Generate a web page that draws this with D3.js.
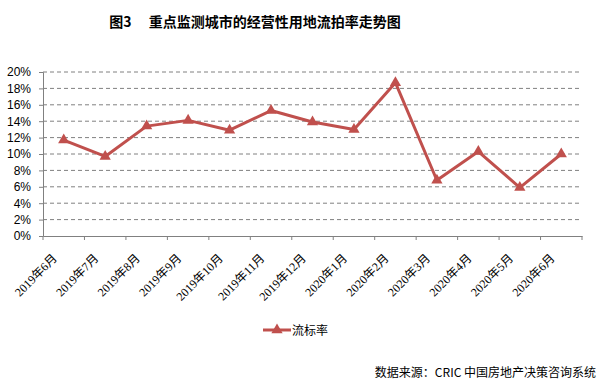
<!DOCTYPE html>
<html>
<head>
<meta charset="utf-8">
<script src="https://cdn.jsdelivr.net/npm/d3@7"></script>
<style>
  body { margin: 0; background: #fff; }
  svg { display: block; }
</style>
</head>
<body>
<div class="container"></div>
<script>
// data
const months = ["2019年6月", "2019年7月", "2019年8月", "2019年9月", "2019年10月", "2019年11月",
  "2019年12月", "2020年1月", "2020年2月", "2020年3月", "2020年4月", "2020年5月", "2020年6月"];
const rates = [11.7, 9.7, 13.4, 14.1, 12.9, 15.3, 13.9, 13.0, 18.7, 6.8, 10.3, 5.9, 10.0];
const yTicks = [0, 2, 4, 6, 8, 10, 12, 14, 16, 18, 20];
const seriesName = "流标率";

const W = 604, H = 382;
const margin = { top: 72, right: 22, bottom: 146, left: 43 };
const color = "#C0504D";
const cjk = "'Noto Sans CJK SC', sans-serif";

const svg = d3.select(".container").append("svg")
  .attr("width", W).attr("height", H);

const x = d3.scaleBand().domain(months).range([margin.left, W - margin.right]);
const y = d3.scaleLinear().domain([0, 20]).range([H - margin.bottom, margin.top]);

// title
svg.append("text")
  .attr("x", 255).attr("y", 27)
  .attr("text-anchor", "middle")
  .style("font-family", cjk).style("font-weight", "bold").style("font-size", "14px")
  .text("图3　 重点监测城市的经营性用地流拍率走势图");

// gridlines
svg.append("g").selectAll("line")
  .data(yTicks.filter(d => d > 0))
  .enter().append("line")
  .attr("x1", margin.left).attr("x2", W - margin.right)
  .attr("y1", d => y(d)).attr("y2", d => y(d))
  .attr("stroke", "#808080").attr("stroke-dasharray", "4,3");

// y axis
const yAxis = svg.append("g")
  .attr("transform", `translate(${margin.left},0)`)
  .call(d3.axisLeft(y).tickValues(yTicks).tickFormat(d => d + "%").tickSizeOuter(0).tickSize(4));
yAxis.select(".domain").attr("stroke", "#808080");
yAxis.selectAll(".tick line").attr("stroke", "#808080");
yAxis.selectAll("text")
  .style("font-family", "'Liberation Sans', Arial, sans-serif").style("font-size", "12px")
  .attr("fill", "#000").attr("x", -12);

// x axis
const xAxis = svg.append("g")
  .attr("transform", `translate(0,${y(0)})`)
  .call(d3.axisBottom(x).tickSize(0).tickSizeOuter(0));
xAxis.select(".domain").attr("stroke", "#808080");
xAxis.selectAll(".tick line").remove();
// ticks on band boundaries
svg.append("g").selectAll("line")
  .data(months.concat(["end"]))
  .enter().append("line")
  .attr("x1", (d, i) => margin.left + i * x.step())
  .attr("x2", (d, i) => margin.left + i * x.step())
  .attr("y1", y(0)).attr("y2", y(0) + 4)
  .attr("stroke", "#808080");
xAxis.selectAll("text")
  .style("font-family", "'Liberation Serif', 'Noto Sans CJK SC', serif").style("font-size", "12px")
  .attr("fill", "#000")
  .attr("text-anchor", "end")
  .attr("dy", "0")
  .attr("transform", "translate(-8,21) rotate(-45)");

// line
const line = d3.line()
  .x((d, i) => x(months[i]) + x.bandwidth() / 2)
  .y(d => y(d));

svg.append("path")
  .datum(rates)
  .attr("d", line)
  .attr("fill", "none")
  .attr("stroke", color)
  .attr("stroke-width", 3)
  .attr("stroke-linejoin", "round");

const tri = d3.symbol().type(d3.symbolTriangle).size(55);
svg.append("g").selectAll("path")
  .data(rates)
  .enter().append("path")
  .attr("d", tri)
  .attr("transform", (d, i) => `translate(${x(months[i]) + x.bandwidth() / 2},${y(d)})`)
  .attr("fill", color);

// legend
const lg = svg.append("g").attr("transform", "translate(263,330)");
lg.append("line").attr("x1", 0).attr("x2", 28).attr("y1", 0).attr("y2", 0)
  .attr("stroke", color).attr("stroke-width", 3);
lg.append("path").attr("d", tri).attr("transform", "translate(14,0)").attr("fill", color);
lg.append("text").attr("x", 29).attr("y", 5)
  .style("font-family", cjk).style("font-size", "12px")
  .text(seriesName);

// source note
svg.append("text")
  .attr("x", 596).attr("y", 377)
  .attr("text-anchor", "end")
  .style("font-family", cjk).style("font-size", "12px")
  .text("数据来源：CRIC 中国房地产决策咨询系统");
</script>
</body>
</html>
